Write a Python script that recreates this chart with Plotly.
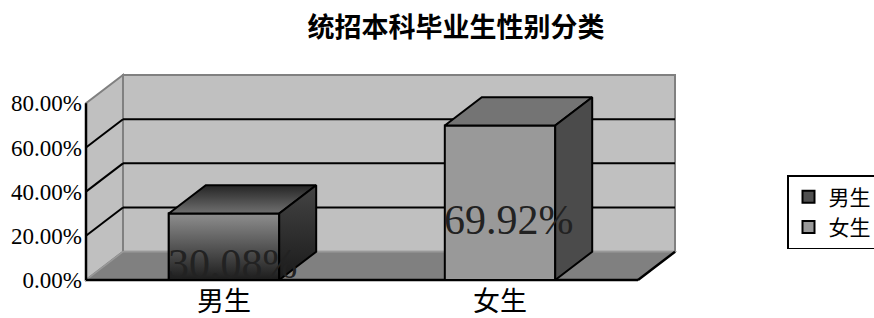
import plotly.graph_objects as go

# ---- data ----
categories = ["男生", "女生"]
values = [30.08, 69.92]
ytick_vals = [0, 20, 40, 60, 80]
ytick_text = ["0.00%", "20.00%", "40.00%", "60.00%", "80.00%"]
title_text = "统招本科毕业生性别分类"

# ---- 3D style constants ----
DX = 0.134      # depth offset, category units
DY = 12.8       # depth offset, value units
BW = 0.40       # bar width
X0, X1 = -0.5, len(categories) - 0.5
YMAX = 80
PADX = 3 / 276
PADY = 3 / 2.2125

xs = list(range(len(categories)))

shapes = []
# back wall
shapes.append(dict(type="rect", layer="below", xref="x", yref="y",
                   x0=X0 + DX, x1=X1 + DX, y0=DY, y1=YMAX + DY,
                   fillcolor="#c0c0c0", line=dict(color="#808080", width=2)))
# left side wall
shapes.append(dict(type="path", layer="below", xref="x", yref="y",
                   path=f"M{X0},0 L{X0+DX},{DY} L{X0+DX},{YMAX+DY} L{X0},{YMAX} Z",
                   fillcolor="#c0c0c0", line=dict(color="#808080", width=2)))
# floor
shapes.append(dict(type="path", layer="below", xref="x", yref="y",
                   path=f"M{X0},0 L{X1},0 L{X1+DX},{DY} L{X0+DX},{DY} Z",
                   fillcolor="#808080", line=dict(color="#999999", width=1.5)))
# gridlines
for t in ytick_vals[1:-1]:
    shapes.append(dict(type="line", layer="below", xref="x", yref="y",
                       x0=X0 + DX, x1=X1 + DX, y0=t + DY, y1=t + DY,
                       line=dict(color="black", width=2)))
    shapes.append(dict(type="line", layer="below", xref="x", yref="y",
                       x0=X0, x1=X0 + DX, y0=t, y1=t + DY,
                       line=dict(color="black", width=2)))
# axis lines
shapes.append(dict(type="line", layer="below", xref="x", yref="y",
                   x0=X0, x1=X0, y0=0, y1=YMAX, line=dict(color="black", width=2.5)))
shapes.append(dict(type="line", layer="below", xref="x", yref="y",
                   x0=X0, x1=X1, y0=0, y1=0, line=dict(color="black", width=2.5)))
shapes.append(dict(type="line", layer="below", xref="x", yref="y",
                   x0=X1, x1=X1 + DX, y0=0, y1=DY, line=dict(color="black", width=2.5)))

fig = go.Figure()

front_colors = ["#505050", "#999999"]
top_colors = ["#555555", "#747474"]
side_colors = ["#333333", "#4b4b4b"]

for i, (c, v) in enumerate(zip(categories, values)):
    fig.add_trace(go.Bar(x=[xs[i]], y=[v], width=BW, name=c,
                         marker=dict(color=front_colors[i], line=dict(color="black", width=2)),
                         hoverinfo="skip"))

for i, v in enumerate(values):
    xl, xr = xs[i] - BW / 2, xs[i] + BW / 2
    if i == 0:
        # front face gradient overlay
        fig.add_trace(go.Scatter(x=[xl, xr, xr, xl, xl], y=[0, 0, v, v, 0],
                                 mode="lines", fill="toself",
                                 fillgradient=dict(type="vertical",
                                                   colorscale=[[0, "#1c1c1c"], [1, "#8e8e8e"]]),
                                 line=dict(color="black", width=2),
                                 showlegend=False, hoverinfo="skip"))
        topfill = dict(fillgradient=dict(type="vertical",
                                         colorscale=[[0, "#707070"], [1, "#252525"]]))
        sidefill = dict(fillgradient=dict(type="vertical",
                                          colorscale=[[0, "#1a1a1a"], [1, "#444444"]]))
    else:
        topfill = dict(fillcolor=top_colors[i])
        sidefill = dict(fillcolor=side_colors[i])
    # top face
    fig.add_trace(go.Scatter(x=[xl, xr, xr + DX, xl + DX, xl],
                             y=[v, v, v + DY, v + DY, v],
                             mode="lines", fill="toself", line=dict(color="black", width=2),
                             showlegend=False, hoverinfo="skip", **topfill))
    # side face
    fig.add_trace(go.Scatter(x=[xr, xr + DX, xr + DX, xr, xr],
                             y=[0, DY, v + DY, v, 0],
                             mode="lines", fill="toself", line=dict(color="black", width=2),
                             showlegend=False, hoverinfo="skip", **sidefill))

annotations = []
for i, v in enumerate(values):
    annotations.append(dict(x=xs[i], y=v / 2, xref="x", yref="y",
                            text=f"{v:.2f}%", showarrow=False,
                            xshift=9, yshift=-17,
                            font=dict(family="Liberation Serif", size=42, color="#222222")))

ML, MR, MT, MB = 83, 196, 72, 35
plot_w = 874 - ML - MR
plot_h = 318 - MT - MB

fig.update_layout(
    width=874, height=318,
    margin=dict(l=ML, r=MR, t=MT, b=MB, autoexpand=False),
    paper_bgcolor="white", plot_bgcolor="rgba(0,0,0,0)",
    title=dict(text=title_text, x=456 / 874, xanchor="center", y=1 - 28 / 318, yanchor="middle",
               font=dict(family="Noto Sans CJK SC", size=27, color="black", weight="bold")),
    shapes=shapes, annotations=annotations,
    barmode="overlay",
    showlegend=True,
    legend=dict(x=(787 - ML) / plot_w, y=(318 - MB - 175) / plot_h, xanchor="left", yanchor="top",
                bordercolor="black", borderwidth=1.5, bgcolor="white",
                font=dict(family="Noto Sans CJK SC", size=21, color="black"),
                tracegroupgap=2),
    xaxis=dict(range=[X0 - PADX, X1 + DX + PADX], tickvals=xs, ticktext=categories,
               showgrid=False, zeroline=False, showline=False, ticks="",
               tickfont=dict(family="Noto Sans CJK SC", size=27, color="black"), fixedrange=True),
    yaxis=dict(range=[-PADY, YMAX + DY + PADY], tickvals=ytick_vals, ticktext=ytick_text,
               showgrid=False, zeroline=False, showline=False, ticks="",
               tickfont=dict(family="Liberation Serif", size=23, color="black"), fixedrange=True),
)

fig.write_html("out.html", config={"displayModeBar": False},
               post_script="document.body.style.margin='0';document.body.style.overflow='hidden';")
